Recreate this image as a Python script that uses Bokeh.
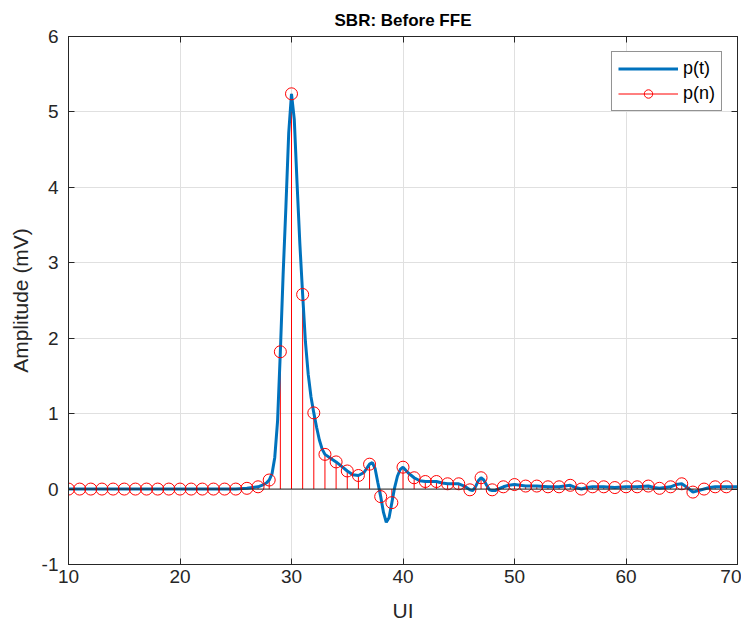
from bokeh.plotting import figure
from bokeh.models import Range1d, LinearAxis, FixedTicker, Legend, LegendItem, Span
from bokeh.embed import file_html
from bokeh.resources import INLINE

# sampled pulse response p(n), n = 10..69
n = list(range(10, 70))
pn = [0.0, 0.0, 0.0, 0.0, 0.0, 0.0, 0.0, 0.0, 0.0, 0.0,      # 10-19
      0.0, 0.0, 0.0, 0.0, 0.0, 0.0, 0.01, 0.03, 0.12, 1.82,  # 20-29
      5.24, 2.58, 1.01, 0.46, 0.36, 0.24, 0.18, 0.33, -0.10, -0.18,  # 30-39
      0.29, 0.15, 0.10, 0.10, 0.07, 0.07, -0.01, 0.15, -0.01, 0.03,  # 40-49
      0.06, 0.04, 0.04, 0.03, 0.03, 0.05, 0.0, 0.03, 0.03, 0.02,     # 50-59
      0.03, 0.03, 0.04, 0.01, 0.03, 0.07, -0.04, 0.0, 0.03, 0.03]    # 60-69

# continuous pulse response p(t)
t = [10, 11, 12, 13, 14, 15, 16, 17, 18, 19, 20, 21, 22, 23, 24, 25,
     26, 26.5, 27, 27.5, 27.75, 28, 28.25, 28.5, 28.75, 29, 29.25, 29.5, 29.75,
     30, 30.25, 30.5, 30.75, 31, 31.25, 31.5, 31.75, 32, 32.25, 32.5, 32.75,
     33, 33.5, 34, 34.5, 35, 35.5, 36, 36.5, 37, 37.25, 37.5, 37.75,
     38, 38.25, 38.5, 38.75, 39, 39.25, 39.5, 39.75, 40, 40.5, 41, 41.5,
     42, 42.5, 43, 43.5, 44, 44.5, 45, 45.5, 46, 46.25, 46.5, 46.75,
     47, 47.25, 47.5, 47.75, 48, 48.25, 48.5, 49, 49.5, 50, 51, 52, 53, 54,
     55, 55.5, 56, 56.5, 57, 58, 59, 60, 61, 62, 62.5, 63, 63.5, 64, 64.5,
     65, 65.5, 66, 66.5, 67, 67.5, 68, 69, 70]
pt = [0.0, 0.0, 0.0, 0.0, 0.0, 0.0, 0.0, 0.0, 0.0, 0.0, 0.0, 0.0, 0.0, 0.0, 0.0, 0.0,
      0.01, 0.02, 0.03, 0.06, 0.08, 0.12, 0.2, 0.42, 0.9, 1.82, 2.85, 3.75, 4.72,
      5.24, 4.9, 4.05, 3.25, 2.58, 1.95, 1.52, 1.22, 1.01, 0.82, 0.65, 0.53,
      0.46, 0.41, 0.36, 0.30, 0.24, 0.19, 0.18, 0.22, 0.33, 0.35, 0.27, 0.08,
      -0.10, -0.31, -0.44, -0.38, -0.18, 0.02, 0.17, 0.26, 0.29, 0.21, 0.15, 0.11,
      0.10, 0.10, 0.10, 0.08, 0.07, 0.07, 0.07, 0.04, -0.01, -0.02, 0.03, 0.11,
      0.15, 0.12, 0.05, -0.01, -0.02, -0.02, 0.0, 0.03, 0.05, 0.06, 0.04, 0.04, 0.03, 0.03,
      0.05, 0.02, 0.0, 0.02, 0.03, 0.03, 0.02, 0.03, 0.03, 0.04, 0.02, 0.01, 0.02, 0.03, 0.06,
      0.07, 0.02, -0.04, -0.02, 0.0, 0.02, 0.03, 0.03, 0.03]

x_ticks = [10, 20, 30, 40, 50, 60, 70]
y_ticks = [-1, 0, 1, 2, 3, 4, 5, 6]
y_tick_labels = {-1: "-1", 0: "0", 1: "1", 2: "2", 3: "3", 4: "4", 5: "5", 6: "6"}

FONT = "Liberation Sans"
AX = "#262626"

p = figure(width=741, height=624, x_range=Range1d(10, 70), y_range=Range1d(-1, 6),
           output_backend="svg", toolbar_location=None, title="SBR: Before FFE",
           min_border_left=68, min_border_right=4, min_border_top=36, min_border_bottom=59)

p.title.align = "center"
p.title.text_font = FONT
p.title.text_font_size = "17px"
p.title.text_font_style = "bold"
p.title.text_color = "black"
p.title.standoff = 13

p.outline_line_color = AX
p.outline_line_width = 1

for ax, ticks in ((p.xaxis[0], x_ticks), (p.yaxis[0], y_ticks)):
    ax.ticker = FixedTicker(ticks=ticks)
    ax.major_tick_in = 6
    ax.major_tick_out = 0
    ax.minor_tick_line_color = None
    ax.axis_line_color = AX
    ax.major_tick_line_color = AX
    ax.major_label_text_font = FONT
    ax.major_label_text_font_size = "19px"
    ax.major_label_text_color = AX
    ax.axis_label_text_font = FONT
    ax.axis_label_text_font_size = "21px"
    ax.axis_label_text_font_style = "normal"
    ax.axis_label_text_color = AX
p.yaxis.major_label_overrides = y_tick_labels
p.xaxis.axis_label = "UI"
p.yaxis.axis_label = "Amplitude (mV)"
p.xaxis.major_label_standoff = 5
p.yaxis.major_label_standoff = 10
p.xaxis.axis_label_standoff = 13
p.yaxis.axis_label_standoff = 7

for loc, ticks in (("right", y_ticks), ("above", x_ticks)):
    a = LinearAxis(ticker=FixedTicker(ticks=ticks), major_tick_in=6, major_tick_out=0,
                   minor_tick_line_color=None, axis_line_color=AX, major_tick_line_color=AX,
                   major_label_overrides={k: "" for k in ticks},
                   major_label_text_font_size="2px", major_label_standoff=0)
    p.add_layout(a, loc)

p.xgrid.ticker = FixedTicker(ticks=x_ticks)
p.ygrid.ticker = FixedTicker(ticks=y_ticks)
p.grid.grid_line_color = "#e0e0e0"
p.grid.grid_line_width = 1

p.add_layout(Span(location=0, dimension="width", line_color="#262626", line_width=1))

stems = p.segment(x0=n, y0=[0] * len(n), x1=n, y1=pn, line_color="#ff0000", line_width=1)
curve = p.line(t, pt, line_color="#0072BD", line_width=3)
marks = p.scatter(n, pn, marker="circle", size=12, fill_color=None, line_color="#ff0000", line_width=1)

legend = Legend(items=[LegendItem(label="p(t)", renderers=[curve]),
                       LegendItem(label="p(n)", renderers=[stems, marks])],
                location="top_right", margin=15, padding=6, spacing=4,
                glyph_width=60, glyph_height=21, label_standoff=5,
                label_text_font=FONT, label_text_font_size="18px", label_text_color="black",
                border_line_color=AX, border_line_width=1, background_fill_alpha=1)
p.add_layout(legend)

open("out.html", "w").write(file_html(p, INLINE))
